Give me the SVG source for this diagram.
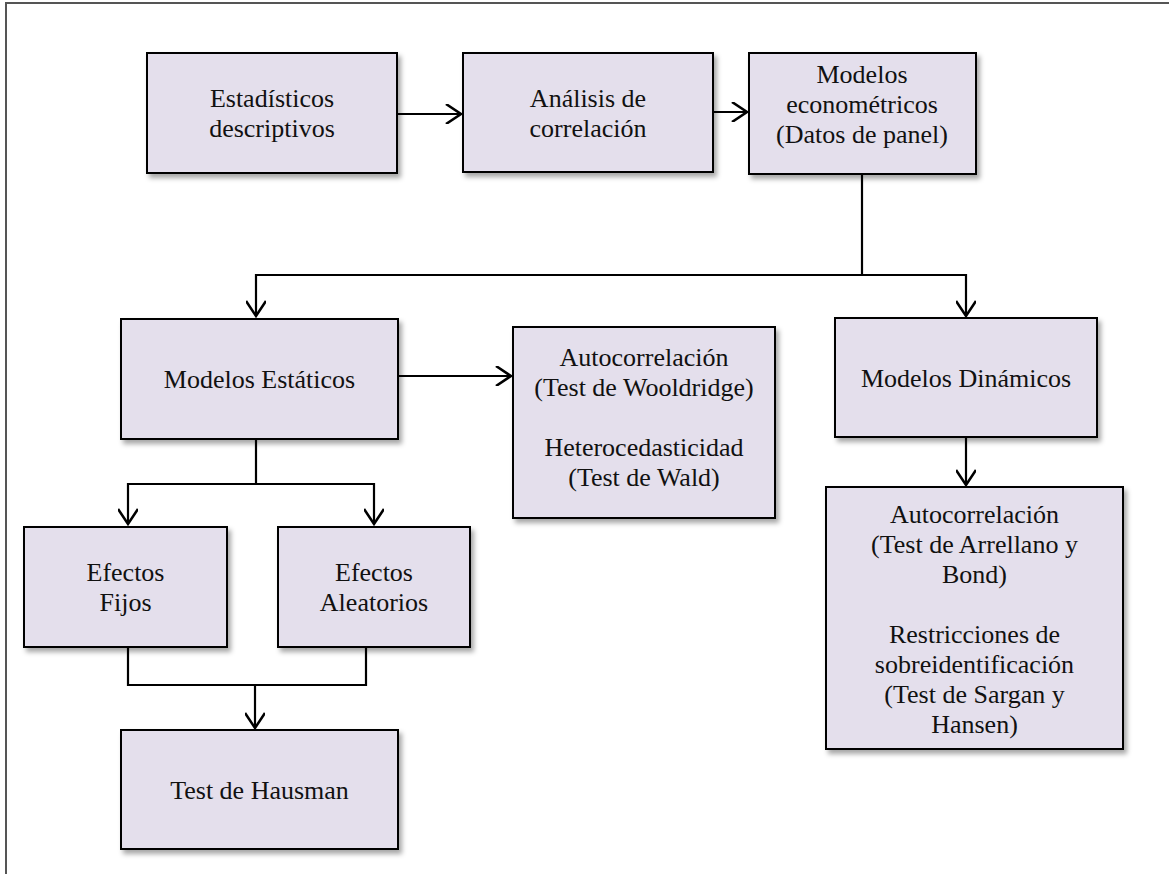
<svg xmlns="http://www.w3.org/2000/svg" width="1169" height="874" viewBox="0 0 1169 874">
  <style>
    .box { fill: #e4dfec; stroke: #000; stroke-width: 2; filter: url(#shadow); }
    .lbl { font-family: "Liberation Serif", "Times New Roman", serif; font-size: 26px; fill: #111; text-anchor: middle; }
    .wire { fill: none; stroke: #000; stroke-width: 2.2; }
    .arrow { fill: none; stroke: #000; stroke-width: 2.2; marker-end: url(#vhead); }
  </style>
  <defs>
    <filter id="shadow" x="-10%" y="-10%" width="130%" height="130%">
      <feDropShadow dx="3" dy="4" stdDeviation="2.5" flood-color="#000" flood-opacity="0.35"/>
    </filter>
    <marker id="vhead" markerWidth="20" markerHeight="20" viewBox="-16 -10 18 20" refX="0" refY="0" orient="auto" markerUnits="userSpaceOnUse">
      <path d="M-15,-10 L0,0 L-15,10" fill="none" stroke="#000" stroke-width="2.6"/>
    </marker>
  </defs>

  <rect width="1169" height="874" fill="#fff"/>
  <!-- page frame -->
  <path d="M6,874 V3 H1169" fill="none" stroke="#555" stroke-width="2"/>

  <!-- connectors -->
  <g id="connectors">
    <path class="arrow" d="M397,114 H461"/>
    <path class="arrow" d="M713,112 H747"/>
    <path class="wire" d="M862,174 V275"/>
    <path class="arrow" d="M862,275 H256 V316"/>
    <path class="arrow" d="M862,275 H966 V316"/>
    <path class="arrow" d="M398,376 H511"/>
    <path class="wire" d="M256,439 V484"/>
    <path class="arrow" d="M256,484 H128 V524"/>
    <path class="arrow" d="M256,484 H374 V524"/>
    <path class="arrow" d="M966,437 V485"/>
    <path class="wire" d="M128,647 V685 H366 V647"/>
    <path class="arrow" d="M255,685 V728"/>
  </g>

  <g id="estadisticos">
    <rect class="box" x="147" y="53" width="250" height="120"/>
    <text class="lbl" x="272" y="107">Estadísticos</text>
    <text class="lbl" x="272" y="137">descriptivos</text>
  </g>
  <g id="correlacion">
    <rect class="box" x="463" y="53" width="250" height="119"/>
    <text class="lbl" x="588" y="107">Análisis de</text>
    <text class="lbl" x="588" y="137">correlación</text>
  </g>
  <g id="econometricos">
    <rect class="box" x="749" y="53" width="227" height="121"/>
    <text class="lbl" x="862" y="83">Modelos</text>
    <text class="lbl" x="862" y="113">econométricos</text>
    <text class="lbl" x="862" y="143">(Datos de panel)</text>
  </g>
  <g id="estaticos">
    <rect class="box" x="121" y="319" width="277" height="120"/>
    <text class="lbl" x="259.5" y="388">Modelos Estáticos</text>
  </g>
  <g id="pruebas-estaticos">
    <rect class="box" x="513" y="327" width="262" height="191"/>
    <text class="lbl" x="644" y="366">Autocorrelación</text>
    <text class="lbl" x="644" y="396">(Test de Wooldridge)</text>
    <text class="lbl" x="644" y="456">Heterocedasticidad</text>
    <text class="lbl" x="644" y="486">(Test de Wald)</text>
  </g>
  <g id="dinamicos">
    <rect class="box" x="835" y="318" width="262" height="119"/>
    <text class="lbl" x="966" y="387">Modelos Dinámicos</text>
  </g>
  <g id="pruebas-dinamicos">
    <rect class="box" x="826" y="487" width="297" height="262"/>
    <text class="lbl" x="974.5" y="523">Autocorrelación</text>
    <text class="lbl" x="974.5" y="553">(Test de Arrellano y</text>
    <text class="lbl" x="974.5" y="583">Bond)</text>
    <text class="lbl" x="974.5" y="643">Restricciones de</text>
    <text class="lbl" x="974.5" y="673">sobreidentificación</text>
    <text class="lbl" x="974.5" y="703">(Test de Sargan y</text>
    <text class="lbl" x="974.5" y="733">Hansen)</text>
  </g>
  <g id="fijos">
    <rect class="box" x="24" y="527" width="203" height="120"/>
    <text class="lbl" x="125.5" y="581">Efectos</text>
    <text class="lbl" x="125.5" y="611">Fijos</text>
  </g>
  <g id="aleatorios">
    <rect class="box" x="278" y="527" width="192" height="120"/>
    <text class="lbl" x="374" y="581">Efectos</text>
    <text class="lbl" x="374" y="611">Aleatorios</text>
  </g>
  <g id="hausman">
    <rect class="box" x="121" y="730" width="277" height="119"/>
    <text class="lbl" x="259.5" y="799">Test de Hausman</text>
  </g>
</svg>
